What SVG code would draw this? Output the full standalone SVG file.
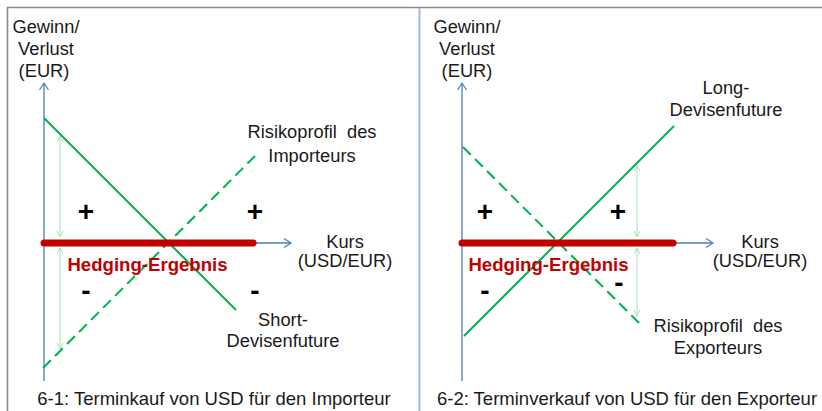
<svg xmlns="http://www.w3.org/2000/svg" width="822" height="411" viewBox="0 0 822 411">
<style>
text{font-family:"Liberation Sans",Arial,sans-serif;font-size:18.3px;fill:#1a1a1a;text-anchor:middle}
.cap{font-size:18.5px}
.he{font-weight:bold;font-size:18.6px;fill:#c00000}
.sg{font-weight:bold;font-size:28px;fill:#000}
.axis{stroke:#4a7ebb;stroke-width:1.3;fill:none;marker-end:url(#ax)}
.red{stroke:#c00000;stroke-width:7;stroke-linecap:round}
.sol{stroke:#00b050;stroke-width:2;fill:none}
.dash{stroke:#00b050;stroke-width:2;fill:none;stroke-dasharray:11 6}
.lt{stroke:#a3e4bd;stroke-width:1;fill:none;marker-start:url(#la);marker-end:url(#la)}
</style>
<defs>
<marker id="ax" markerUnits="userSpaceOnUse" markerWidth="12" markerHeight="12" viewBox="-9 -6 12 12" refX="0" refY="0" orient="auto">
<path d="M-7,-4.5 L0,0 L-7,4.5" fill="none" stroke="#4a7ebb" stroke-width="1.2"/>
</marker>
<marker id="la" markerUnits="userSpaceOnUse" markerWidth="10" markerHeight="10" viewBox="-8 -5 10 10" refX="0" refY="0" orient="auto-start-reverse">
<path d="M-6,-3 L0,0 L-6,3" fill="none" stroke="#a3e4bd" stroke-width="1"/>
</marker>
</defs>
<rect width="822" height="411" fill="#fff"/>
<g id="frame">
<line x1="7" y1="7.5" x2="822" y2="7.5" stroke="#8a8a8a" stroke-width="1.6"/>
<line x1="7.5" y1="7" x2="7.5" y2="411" stroke="#8a8a8a" stroke-width="1.6"/>
<line x1="419.5" y1="8" x2="419.5" y2="411" stroke="#9bb5d6" stroke-width="1.8"/>
</g>
<g id="connectors">
<line class="axis" x1="44" y1="381" x2="44" y2="83"/>
<line class="axis" x1="44" y1="243" x2="291" y2="243"/>
<line class="sol" x1="44" y1="118" x2="236" y2="310"/>
<line class="dash" x1="43" y1="368" x2="255" y2="156"/>
<line class="lt" x1="60" y1="136" x2="60" y2="237"/>
<line class="lt" x1="60" y1="248" x2="60" y2="349"/>
<line class="red" x1="44" y1="243" x2="253" y2="243"/>
<line class="axis" x1="462" y1="381" x2="462" y2="83"/>
<line class="axis" x1="462" y1="243" x2="713" y2="243"/>
<line class="sol" x1="464" y1="336" x2="674" y2="126"/>
<line class="dash" x1="463" y1="147" x2="643" y2="327"/>
<line class="lt" x1="637" y1="165" x2="637" y2="237"/>
<line class="lt" x1="637" y1="248" x2="637" y2="316"/>
<line class="red" x1="462" y1="243" x2="673" y2="243"/>
</g>
<g id="left-panel">
<g id="y-label-1"><text x="46" y="33">Gewinn/</text><text x="46" y="55">Verlust</text><text x="44" y="77">(EUR)</text></g>
<g id="importeur-label"><text x="312" y="138" xml:space="preserve">Risikoprofil  des</text><text x="312" y="162">Importeurs</text></g>
<g id="x-label-1"><text x="345" y="247.5">Kurs</text><text x="345" y="267">(USD/EUR)</text></g>
<g id="short-label"><text x="283" y="326">Short-</text><text x="283" y="347">Devisenfuture</text></g>
<g id="hedge-1"><text class="he" x="147.5" y="270.5">Hedging-Ergebnis</text></g>
<g id="signs-1"><text class="sg" x="86" y="221">+</text><text class="sg" x="255" y="221">+</text><text class="sg" x="86" y="300">-</text><text class="sg" x="255" y="300">-</text></g>
<g id="caption-1"><text class="cap" x="214" y="405">6-1: Terminkauf von USD für den Importeur</text></g>
</g>
<g id="right-panel">
<g id="y-label-2"><text x="467" y="33">Gewinn/</text><text x="467" y="55">Verlust</text><text x="467" y="77">(EUR)</text></g>
<g id="long-label"><text x="726" y="94">Long-</text><text x="726" y="115.5">Devisenfuture</text></g>
<g id="x-label-2"><text x="760" y="247.5">Kurs</text><text x="760" y="267">(USD/EUR)</text></g>
<g id="exporteur-label"><text x="718" y="331.5" xml:space="preserve">Risikoprofil  des</text><text x="718" y="353.5">Exporteurs</text></g>
<g id="hedge-2"><text class="he" x="548.5" y="270.5">Hedging-Ergebnis</text></g>
<g id="signs-2"><text class="sg" x="485" y="221">+</text><text class="sg" x="618" y="221">+</text><text class="sg" x="485" y="300">-</text><text class="sg" x="619" y="292">-</text></g>
<g id="caption-2"><text class="cap" x="627" y="405">6-2: Terminverkauf von USD für den Exporteur</text></g>
</g>
</svg>
